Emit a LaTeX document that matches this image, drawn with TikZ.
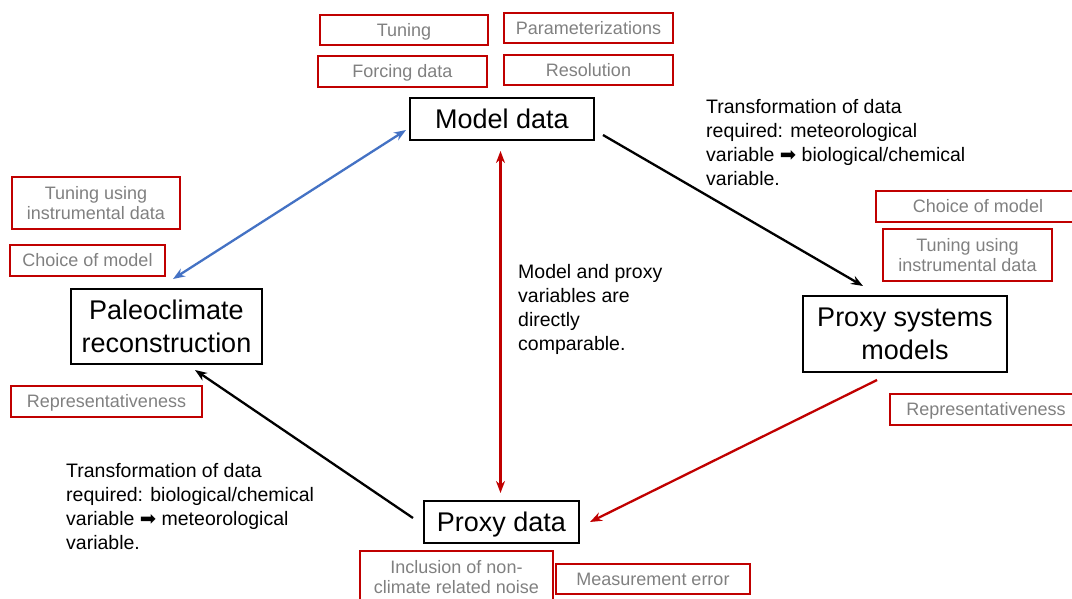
\documentclass[tikz,border=0pt]{standalone}
\usepackage{fontspec}
\setmainfont{Liberation Sans}
\newfontfamily\djv{DejaVu Sans}
\usetikzlibrary{arrows.meta}
\definecolor{boxred}{RGB}{192,0,0}
\definecolor{txtgray}{RGB}{128,128,128}
\definecolor{arrblue}{RGB}{68,114,196}
\definecolor{arrred}{RGB}{192,0,0}
\begin{document}
\begin{tikzpicture}[x=1pt,y=-1pt,
  mainbox/.style={draw=black, line width=1.2pt, font=\fontsize{27}{33}\selectfont, align=center, inner sep=0pt},
  notebox/.style={draw=boxred, line width=1.2pt, text=txtgray, font=\fontsize{18}{20}\selectfont, align=center, inner sep=0pt},
  onebig/.style={text height=24.4pt, text depth=5.7pt},
  onesmall/.style={text height=16.3pt, text depth=3.8pt},
  expl/.style={font=\fontsize{19.5}{24}\selectfont, align=left, anchor=north west, inner sep=0pt},
  arr/.style={line width=2.3pt, -{Stealth[length=12pt,width=9pt]}},
  darr/.style={line width=2.3pt, {Stealth[length=12pt,width=9pt]}-{Stealth[length=12pt,width=9pt]}}]
\useasboundingbox (0,0) rectangle (1072,599);
% main boxes
\node[mainbox, onebig, minimum width=184, minimum height=42] (md) at (502,119) {Model data};
\node[mainbox, minimum width=191, minimum height=75] (pr) at (166.5,326.5) {Paleoclimate\\reconstruction};
\node[mainbox, minimum width=204, minimum height=76] (psm) at (905,334) {Proxy systems\\models};
\node[mainbox, onebig, minimum width=155, minimum height=42] (pd) at (501.5,522) {Proxy data};
% note boxes
\node[notebox, onesmall, minimum width=168, minimum height=30] (n1) at (404,30) {Tuning};
\node[notebox, onesmall, minimum width=169, minimum height=30] (n2) at (588.5,28) {Parameterizations};
\node[notebox, onesmall, minimum width=169, minimum height=31] (n3) at (402.5,71.5) {Forcing data};
\node[notebox, onesmall, minimum width=169, minimum height=30] (n4) at (588.5,70) {Resolution};
\node[notebox, minimum width=168, minimum height=52] (n5) at (96,203) {Tuning using\\instrumental data};
\node[notebox, onesmall, minimum width=155, minimum height=31] (n6) at (87.5,260.5) {Choice of model};
\node[notebox, onesmall, minimum width=191, minimum height=31] (n7) at (106.5,401.5) {Representativeness};
\node[notebox, onesmall, minimum width=204, minimum height=31] (n8) at (978,206.5) {Choice of model};
\node[notebox, minimum width=169, minimum height=52] (n9) at (967.5,255) {Tuning using\\instrumental data};
\node[notebox, onesmall, minimum width=192, minimum height=31] (n10) at (986,409.5) {Representativeness};
\node[notebox, minimum width=193, minimum height=52] (n11) at (456.5,577) {Inclusion of non-\\climate related noise};
\node[notebox, onesmall, minimum width=194, minimum height=30] (n12) at (653,579) {Measurement error};
% explanation texts
\node[expl] (t1) at (706,99) {Transformation of data\\required: meteorological\\variable {\djv ➡} biological/chemical\\variable.};
\node[expl] (t2) at (518,264) {Model and proxy\\variables are\\directly\\comparable.};
\node[expl] (t3) at (66,463) {Transformation of data\\required: biological/chemical\\variable {\djv ➡} meteorological\\variable.};
% arrow end points
\coordinate (b1) at (406,130);
\coordinate (b2) at (173,279);
\coordinate (k1) at (603,135);
\coordinate (k2) at (863,286);
\coordinate (r1) at (500.5,151);
\coordinate (r2) at (500.5,493);
\coordinate (s1) at (877,380);
\coordinate (s2) at (590,522);
\coordinate (p1) at (413,518);
\coordinate (p2) at (195,370);
% connectors
\draw[darr, arrblue] (b1) -- (b2);
\draw[arr, black] (k1) -- (k2);
\draw[darr, arrred] (r1) -- (r2);
\draw[arr, arrred] (s1) -- (s2);
\draw[arr, black] (p1) -- (p2);
\end{tikzpicture}
\end{document}
